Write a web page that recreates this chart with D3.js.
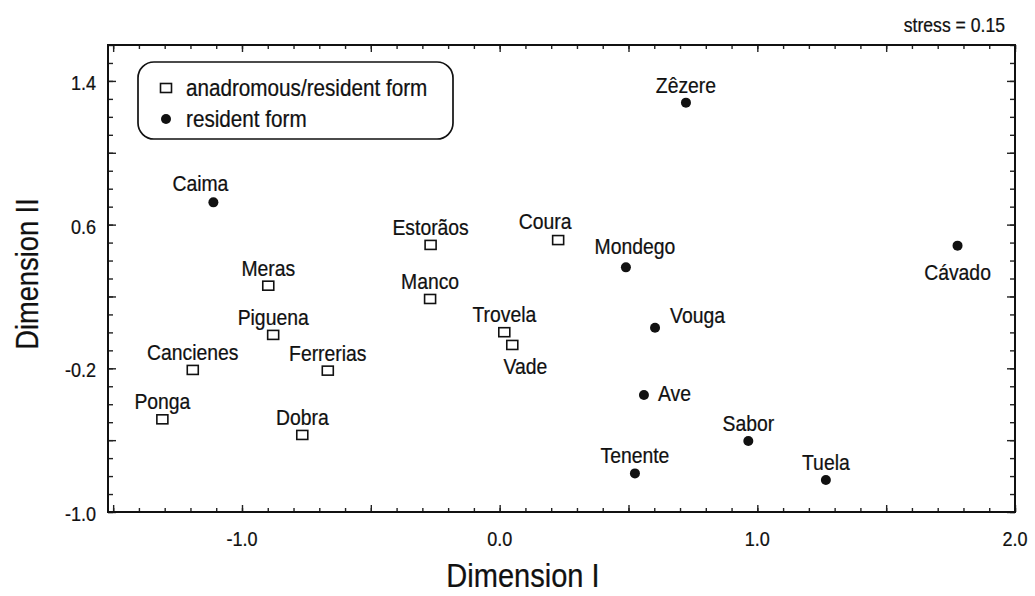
<!DOCTYPE html>
<html>
<head>
<meta charset="utf-8">
<script src="https://cdn.jsdelivr.net/npm/d3@7"></script>
<style>
	html, body { margin: 0; padding: 0; background: #fff; }
	svg text { font-family: "Liberation Sans", Arial, sans-serif; fill: #111; stroke: #111; stroke-width: 0.25px; }
</style>
</head>
<body>
<div id="chart"></div>
<script>
(function () {

	// MDS configuration, one entry per river
	var rivers = ["Caima", "Meras", "Piguena", "Cancienes", "Ferrerias", "Ponga", "Dobra",
		"Estorãos", "Coura", "Mondego", "Manco", "Trovela", "Vade", "Vouga", "Ave",
		"Sabor", "Tenente", "Tuela", "Zêzere", "Cávado"];
	var dim1 = [-1.111, -0.898, -0.879, -1.191, -0.667, -1.309, -0.766,
		-0.268, 0.227, 0.490, -0.270, 0.018, 0.049, 0.603, 0.560,
		0.965, 0.525, 1.266, 0.723, 1.777];
	var dim2 = [0.724, 0.260, -0.014, -0.209, -0.213, -0.484, -0.571,
		0.487, 0.514, 0.362, 0.186, 0.001, -0.070, 0.026, -0.349,
		-0.605, -0.785, -0.822, 1.279, 0.483];
	var forms = ["res", "ana", "ana", "ana", "ana", "ana", "ana",
		"ana", "ana", "res", "ana", "ana", "ana", "res", "res",
		"res", "res", "res", "res", "res"];
	// where the name sits relative to its marker
	var labelSide = ["nw", "n", "n", "n", "n", "n", "n",
		"n", "nw", "ne", "n", "n", "se", "en", "e",
		"n", "n", "n", "n", "s"];

	var xTickLabels = [-1.0, 0.0, 1.0, 2.0];
	var yTickLabels = [-1.0, -0.2, 0.6, 1.4];
	var legendLabels = ["anadromous/resident form", "resident form"];
	var legendForms = ["ana", "res"];

	var width = 1035, height = 596;
	var squeeze = 0.88;

	var x = d3.scaleLinear().domain([-1.52, 2.0]).range([108, 1015]);
	var y = d3.scaleLinear().domain([-1.0, 1.6]).range([512, 45]);

	var svg = d3.select("#chart")
				.append("svg")
				.attr("width", width)
				.attr("height", height)
				;

	function place(sel, px, py, size, extra) {
		sel.attr("font-size", size)
			.attr("transform", "translate(" + px + "," + py + ")" + (extra || "") + " scale(" + squeeze + ",1)");
		return sel;
	}

	// ticks, all pointing inwards on all four sides
	var xMinor = d3.range(-15, 21).map(function(d) { return d / 10; });
	var xMajor = d3.range(-15, 21, 5).map(function(d) { return d / 10; });
	var yMinor = d3.range(-10, 17).map(function(d) { return d / 10; });
	var yMajor = d3.range(-10, 15, 4).map(function(d) { return d / 10; });

	function tickLayer(axis, vals, size, tx, ty) {
		var g = svg.append("g")
			.attr("transform", "translate(" + tx + "," + ty + ")")
			.call(axis.tickValues(vals).tickSize(size).tickFormat(""));
		g.select(".domain").remove();
		g.selectAll("line").attr("stroke", "#222").attr("stroke-width", 1.4);
	}

	tickLayer(d3.axisBottom(x), xMinor, -4, 0, y.range()[0]);
	tickLayer(d3.axisBottom(x), xMajor, -7, 0, y.range()[0]);
	tickLayer(d3.axisTop(x), xMinor, -4, 0, y.range()[1]);
	tickLayer(d3.axisTop(x), xMajor, -7, 0, y.range()[1]);
	tickLayer(d3.axisLeft(y), yMinor, -5, x.range()[0], 0);
	tickLayer(d3.axisLeft(y), yMajor, -8, x.range()[0], 0);
	tickLayer(d3.axisRight(y), yMinor, -5, x.range()[1], 0);
	tickLayer(d3.axisRight(y), yMajor, -8, x.range()[1], 0);

	svg.append("rect")
		.attr("x", x.range()[0])
		.attr("y", y.range()[1])
		.attr("width", x.range()[1] - x.range()[0])
		.attr("height", y.range()[0] - y.range()[1])
		.attr("fill", "none")
		.attr("stroke", "#111")
		.attr("stroke-width", 2)
		;

	// tick labels
	svg.selectAll("text.xtick")
		.data(xTickLabels)
		.enter()
		.append("text")
		.attr("class", "xtick")
		.attr("text-anchor", "middle")
		.attr("dominant-baseline", "central")
		.text(function(d) { return d.toFixed(1); })
		.each(function(d) { place(d3.select(this), x(d), 539, 20.5); })
		;

	svg.selectAll("text.ytick")
		.data(yTickLabels)
		.enter()
		.append("text")
		.attr("class", "ytick")
		.attr("text-anchor", "end")
		.attr("dominant-baseline", "central")
		.text(function(d) { return d.toFixed(1); })
		.each(function(d) { place(d3.select(this), 96, y(d) + 2, 20.5); })
		;

	// axis titles
	place(svg.append("text"), 523, 576, 33)
		.attr("text-anchor", "middle")
		.attr("dominant-baseline", "central")
		.text("Dimension I");

	place(svg.append("text"), 27, 274, 31, " rotate(-90)")
		.attr("text-anchor", "middle")
		.attr("dominant-baseline", "central")
		.text("Dimension II");

	place(svg.append("text"), 1005, 25, 20)
		.attr("text-anchor", "end")
		.attr("dominant-baseline", "central")
		.text("stress = 0.15");

	function drawMarker(g, form, cx, cy) {
		if (form === "ana") {
			g.append("rect")
				.attr("x", cx - 5.5)
				.attr("y", cy - 4.5)
				.attr("width", 11)
				.attr("height", 9)
				.attr("fill", "#fff")
				.attr("stroke", "#111")
				.attr("stroke-width", 1.6);
		} else {
			g.append("circle")
				.attr("cx", cx)
				.attr("cy", cy)
				.attr("r", 5)
				.attr("fill", "#111");
		}
	}

	// points
	var offsets = {
		n:  [0, -18, "middle"],
		nw: [-13, -19, "middle"],
		ne: [9, -21, "middle"],
		s:  [0, 26, "middle"],
		se: [13, 21, "middle"],
		e:  [14, -2, "start"],
		en: [15, -13, "start"]
	};

	var pts = svg.selectAll("g.river")
		.data(rivers)
		.enter()
		.append("g")
		.attr("class", "river")
		;

	pts.each(function(name, i) {
		var g = d3.select(this);
		var cx = x(dim1[i]), cy = y(dim2[i]);
		drawMarker(g, forms[i], cx, cy);
		var o = offsets[labelSide[i]];
		place(g.append("text"), cx + o[0], cy + o[1], 22)
			.attr("text-anchor", o[2])
			.attr("dominant-baseline", "central")
			.text(name);
	});

	// legend
	var legend = svg.append("g").attr("class", "legend");

	legend.append("rect")
		.attr("x", 138)
		.attr("y", 62)
		.attr("width", 315)
		.attr("height", 77)
		.attr("rx", 16)
		.attr("fill", "#fff")
		.attr("stroke", "#111")
		.attr("stroke-width", 1.7)
		;

	legendLabels.forEach(function(label, i) {
		var ly = 88 + i * 31;
		drawMarker(legend, legendForms[i], 166, ly);
		place(legend.append("text"), 186, ly, 23.5)
			.attr("dominant-baseline", "central")
			.text(label);
	});

}) ();
</script>
</body>
</html>
